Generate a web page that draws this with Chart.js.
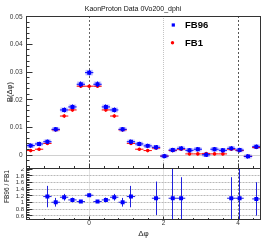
<!DOCTYPE html>
<html>
<head>
<meta charset="utf-8">
<script src="https://cdn.jsdelivr.net/npm/chart.js@4.4.1/dist/chart.umd.min.js"></script>
<style>
  html, body { margin: 0; padding: 0; background: #fff; }
  #wrap { position: relative; width: 266px; height: 241px; overflow: hidden; }
  canvas { position: absolute; left: 0; }
  #top { top: 0; }
  #bot { top: 168px; }
</style>
</head>
<body>
<div id="wrap">
  <canvas id="top" width="266" height="169"></canvas>
  <canvas id="bot" width="266" height="73"></canvas>
</div>
<script>
// centres des bins en delta phi (28 bins, -pi/2 .. 3pi/2)
const dphi = [-1.571, -1.346, -1.122, -0.898, -0.673, -0.449, -0.224, 0, 0.224, 0.449, 0.673, 0.898, 1.122, 1.346,
              1.571, 1.795, 2.020, 2.244, 2.468, 2.693, 2.917, 3.142, 3.366, 3.590, 3.815, 4.039, 4.264, 4.488];
const halfBin = 0.112;

const fb96 = [0.0034, 0.0040, 0.0048, 0.0093, 0.0163, 0.0174, 0.0256, 0.0298, 0.0256, 0.0174, 0.0163, 0.0093, 0.0048, 0.0040,
              0.0033, 0.0028, -0.0004, 0.0018, 0.0024, 0.0017, 0.0021, 0.0001, 0.0021, 0.0017, 0.0024, 0.0018, -0.0005, 0.0030];
const fb96Err = [0.0008, 0.0008, 0.0008, 0.0008, 0.0009, 0.0009, 0.0010, 0.0010, 0.0010, 0.0009, 0.0009, 0.0008, 0.0008, 0.0008,
                 0.0008, 0.0008, 0.0008, 0.0008, 0.0008, 0.0008, 0.0008, 0.0008, 0.0008, 0.0008, 0.0008, 0.0008, 0.0008, 0.0008];
const fb1 = [0.0016, 0.0021, 0.0042, 0.0091, 0.0141, 0.0163, 0.0249, 0.0249, 0.0249, 0.0163, 0.0141, 0.0091, 0.0042, 0.0021,
             0.0016, 0.0025, -0.0004, 0.0016, 0.0021, 0.0004, 0.0004, 0.0005, 0.0004, 0.0004, 0.0021, 0.0016, -0.0005, 0.0027];
const fb1Err = [0.0005, 0.0005, 0.0005, 0.0005, 0.0006, 0.0006, 0.0006, 0.0006, 0.0006, 0.0006, 0.0006, 0.0005, 0.0005, 0.0005,
                0.0005, 0.0005, 0.0005, 0.0005, 0.0005, 0.0005, 0.0005, 0.0005, 0.0005, 0.0005, 0.0005, 0.0005, 0.0005, 0.0005];

// rapport FB96 / FB1 (null = hors du cadre)
const ratio = [null, null, 1.18, 1.01, 1.16, 1.08, 1.03, 1.22, 1.03, 1.08, 1.16, 1.01, 1.18, null,
               null, 1.13, null, 1.13, 1.13, null, null, null, null, null, 1.13, 1.13, null, 1.11];
const ratioErr = [0, 0, 0.32, 0.13, 0.10, 0.07, 0.04, 0.05, 0.04, 0.07, 0.10, 0.13, 0.32, 0,
                  0, 0.50, 0, 0.90, 0.63, 0, 0, 0, 0, 0, 0.63, 0.90, 0, 0.50];

const yTicksTop = [0, 0.01, 0.02, 0.03, 0.04, 0.05];
const yTicksRatio = [0.6, 0.8, 1, 1.2, 1.4, 1.6, 1.8, 2];
const xTicks = [0, 2, 4];

const FONT = "'Liberation Sans', Arial, sans-serif";
const pts = ys => dphi.map((x, i) => ({ x: x, y: ys[i] }));

// cadre, grille pointillée et petits traits vers l'intérieur (style ROOT)
const framePlugin = {
    id: 'frame',
    beforeDatasetsDraw(chart, args, opts) {
        const { ctx, chartArea: a, scales: { x, y } } = chart;
        ctx.save();
        ctx.lineWidth = 1;
        (opts.xGrid || []).forEach(g => {
            const px = Math.floor(x.getPixelForValue(g.v)) + 0.5;
            ctx.strokeStyle = g.color;
            ctx.setLineDash(g.dash);
            ctx.beginPath(); ctx.moveTo(px, a.top); ctx.lineTo(px, a.bottom); ctx.stroke();
        });
        (opts.yGrid || []).forEach(g => {
            const py = Math.floor(y.getPixelForValue(g.v)) + 0.5;
            ctx.strokeStyle = g.color;
            ctx.setLineDash(g.dash);
            ctx.beginPath(); ctx.moveTo(a.left, py); ctx.lineTo(a.right, py); ctx.stroke();
        });
        ctx.restore();
    },
    afterDraw(chart, args, opts) {
        const { ctx, chartArea: a, scales: { x, y } } = chart;
        const L = Math.floor(a.left) + 0.5, R = Math.floor(a.right) + 0.5;
        const T = Math.floor(a.top) + 0.5, B = Math.floor(a.bottom) + 0.5;
        ctx.save();
        ctx.strokeStyle = '#333';
        ctx.lineWidth = 1;
        ctx.beginPath();
        for (let v = opts.yMinorStart; v <= y.max + 1e-9; v += opts.yMinor) {
            const py = Math.floor(y.getPixelForValue(v)) + 0.5;
            if (py < T || py > B) continue;
            ctx.moveTo(L, py); ctx.lineTo(L + 3, py);
        }
        opts.yMajor.forEach(v => {
            const py = Math.floor(y.getPixelForValue(v)) + 0.5;
            if (py < T || py > B) return;
            ctx.moveTo(L, py); ctx.lineTo(L + 6, py);
        });
        for (let v = -1.6; v <= x.max; v += 0.4) {
            const px = Math.floor(x.getPixelForValue(v)) + 0.5;
            ctx.moveTo(px, B); ctx.lineTo(px, B - opts.xMinorLen);
        }
        xTicks.forEach(v => {
            const px = Math.floor(x.getPixelForValue(v)) + 0.5;
            ctx.moveTo(px, B); ctx.lineTo(px, B - opts.xMajorLen);
        });
        ctx.stroke();
        ctx.strokeRect(L, T, R - L, B - T);
        ctx.restore();
    }
};

// barres d'erreur + boites d'erreur
const errorBars = {
    id: 'errorBars',
    beforeDatasetsDraw(chart) {
        const { ctx, chartArea: a, scales: { x, y } } = chart;
        ctx.save();
        ctx.beginPath(); ctx.rect(a.left, a.top, a.right - a.left, a.bottom - a.top); ctx.clip();
        chart.data.datasets.forEach(ds => {
            if (!ds.boxX) return;
            ctx.fillStyle = ds.boxColor;
            ds.data.forEach((p, i) => {
                if (p.y === null) return;
                const x0 = x.getPixelForValue(p.x - ds.boxX), x1 = x.getPixelForValue(p.x + ds.boxX);
                const y0 = y.getPixelForValue(p.y + ds.errY[i]), y1 = y.getPixelForValue(p.y - ds.errY[i]);
                ctx.fillRect(x0, y0, x1 - x0, y1 - y0);
            });
        });
        ctx.restore();
    },
    beforeDatasetDraw(chart, args) {
        const ds = chart.data.datasets[args.index];
        if (!ds.errY) return;
        const { ctx, chartArea: a, scales: { x, y } } = chart;
        ctx.save();
        ctx.beginPath(); ctx.rect(a.left, a.top, a.right - a.left, a.bottom - a.top); ctx.clip();
        ctx.strokeStyle = ds.errColor;
        ctx.lineWidth = 1;
        ctx.beginPath();
        ds.data.forEach((p, i) => {
            if (p.y === null) return;
            const px = Math.floor(x.getPixelForValue(p.x)) + 0.5;
            const py = y.getPixelForValue(p.y);
            ctx.moveTo(x.getPixelForValue(p.x - ds.errX), py);
            ctx.lineTo(x.getPixelForValue(p.x + ds.errX), py);
            ctx.moveTo(px, y.getPixelForValue(p.y - ds.errY[i]));
            ctx.lineTo(px, y.getPixelForValue(p.y + ds.errY[i]));
        });
        ctx.stroke();
        ctx.restore();
    }
};

// titre, légende et titre de l'axe du rapport
const textPlugin = {
    id: 'texts',
    afterDraw(chart, args, opts) {
        const ctx = chart.ctx;
        ctx.save();
        (opts.items || []).forEach(t => {
            ctx.save();
            ctx.translate(t.x, t.y);
            if (t.rot) ctx.rotate(t.rot);
            ctx.font = t.font;
            ctx.fillStyle = t.color || '#000';
            ctx.textAlign = t.align || 'center';
            ctx.textBaseline = 'middle';
            ctx.fillText(t.text, 0, 0);
            ctx.restore();
        });
        (opts.markers || []).forEach(m => {
            ctx.fillStyle = m.color;
            if (m.shape === 'rect') ctx.fillRect(m.x - 1.6, m.y - 1.6, 3.2, 3.2);
            else { ctx.beginPath(); ctx.arc(m.x, m.y, 1.7, 0, Math.PI * 2); ctx.fill(); }
        });
        ctx.restore();
    }
};

const tickFont = size => ({ family: FONT, size: size });
const fmt = v => String(+v.toFixed(3));
// largeur fixe de l'axe y, sans marge ajoutée pour les étiquettes extrêmes
const fixWidth = s => { s.width = 26.5; s.paddingTop = 0; s.paddingBottom = 0; };

new Chart(document.getElementById('top'), {
    type: 'scatter',
    data: {
        datasets: [
            {
                label: 'FB96', data: pts(fb96), errY: fb96Err, errX: halfBin, boxX: 0.1,
                boxColor: 'rgba(70,70,255,0.30)', errColor: '#0000ff',
                pointStyle: 'rect', pointRadius: 2.8, pointBackgroundColor: '#0000ff', pointBorderWidth: 0
            },
            {
                label: 'FB1', data: pts(fb1), errY: fb1Err, errX: halfBin, errColor: '#ff0000',
                pointStyle: 'circle', pointRadius: 1.8, pointBackgroundColor: '#ff0000', pointBorderWidth: 0
            }
        ]
    },
    options: {
        responsive: false, animation: false, devicePixelRatio: 1,
        layout: { autoPadding: false, padding: { left: 0, right: 5.5, top: 16, bottom: 1 } },
        plugins: {
            legend: { display: false }, tooltip: { enabled: false },
            frame: {
                xGrid: [
                    { v: 0, color: '#666', dash: [2, 2] },
                    { v: 2, color: '#c4c4c4', dash: [1, 1] },
                    { v: 4, color: '#555', dash: [2, 2] }
                ],
                yGrid: [{ v: 0, color: '#a0a0a0', dash: [1, 1] }],
                yMajor: yTicksTop, yMinor: 0.002, yMinorStart: -0.004,
                xMajorLen: 5, xMinorLen: 2.5
            },
            texts: {
                items: [
                    { text: 'KaonProton Data 0Vo200_dphi', x: 133, y: 9, font: '7px ' + FONT, color: '#111' },
                    { text: 'FB96', x: 185, y: 25.5, align: 'left', font: 'bold 9.5px ' + FONT },
                    { text: 'FB1', x: 185, y: 43, align: 'left', font: 'bold 9.5px ' + FONT }
                ],
                markers: [
                    { shape: 'rect', x: 173.3, y: 25, color: '#0000ff' },
                    { shape: 'circle', x: 172.5, y: 42.7, color: '#ff0000' }
                ]
            }
        },
        scales: {
            x: { type: 'linear', display: false, min: -1.683, max: 4.6 },
            y: {
                type: 'linear', min: -0.0047, max: 0.0503,
                afterFit: fixWidth,
                afterBuildTicks(s) { s.ticks = yTicksTop.map(v => ({ value: v })); },
                grid: { display: false, drawTicks: false }, border: { display: false },
                ticks: { padding: 4, autoSkip: false, font: tickFont(6.5), color: '#333', callback: fmt },
                title: { display: true, text: 'B(Δφ)', color: '#222', font: { family: FONT, size: 7.5 }, padding: { top: 5.5, bottom: 0 } }
            }
        }
    },
    plugins: [framePlugin, errorBars, textPlugin]
});

new Chart(document.getElementById('bot'), {
    type: 'scatter',
    data: {
        datasets: [
            {
                label: 'FB96 / FB1', data: pts(ratio), errY: ratioErr, errX: halfBin, errColor: '#2020dd',
                pointStyle: 'rect', pointRadius: 2.8, pointBackgroundColor: '#0000ff', pointBorderWidth: 0
            }
        ]
    },
    options: {
        responsive: false, animation: false, devicePixelRatio: 1,
        layout: { autoPadding: false, padding: { left: 0, right: 5.5, top: 0.5, bottom: 0 } },
        plugins: {
            legend: { display: false }, tooltip: { enabled: false },
            frame: {
                xGrid: [
                    { v: 0, color: '#c4c4c4', dash: [1, 1] },
                    { v: 2, color: '#c4c4c4', dash: [1, 1] },
                    { v: 4, color: '#555', dash: [2, 2] }
                ],
                yGrid: [0.6, 0.8, 1, 1.2, 1.4, 1.6, 1.8].map(v => ({ v: v, color: '#b8b8b8', dash: [2, 1] })),
                yMajor: yTicksRatio, yMinor: 0.05, yMinorStart: 0.5,
                xMajorLen: 3, xMinorLen: 1.5
            },
            texts: {
                items: [
                    { text: 'FB96 / FB1', x: 7.5, y: 18.5, rot: -Math.PI / 2, font: '6.5px ' + FONT, color: '#222' }
                ]
            }
        },
        scales: {
            x: {
                type: 'linear', min: -1.683, max: 4.6,
                afterFit(s) { s.height = 21.7; },
                afterBuildTicks(s) { s.ticks = xTicks.map(v => ({ value: v })); },
                grid: { display: false, drawTicks: false }, border: { display: false },
                ticks: { padding: 0, autoSkip: false, maxRotation: 0, font: tickFont(6.5), color: '#333', callback: fmt },
                title: { display: true, text: 'Δφ', color: '#222', font: { family: FONT, size: 8 }, padding: { top: 0, bottom: 2 } }
            },
            y: {
                type: 'linear', min: 0.5, max: 2.02,
                afterFit: fixWidth,
                afterBuildTicks(s) { s.ticks = yTicksRatio.map(v => ({ value: v })); },
                grid: { display: false, drawTicks: false }, border: { display: false },
                ticks: { padding: 2.5, autoSkip: false, font: tickFont(6), color: '#333', callback: fmt }
            }
        }
    },
    plugins: [framePlugin, errorBars, textPlugin]
});
</script>
</body>
</html>
